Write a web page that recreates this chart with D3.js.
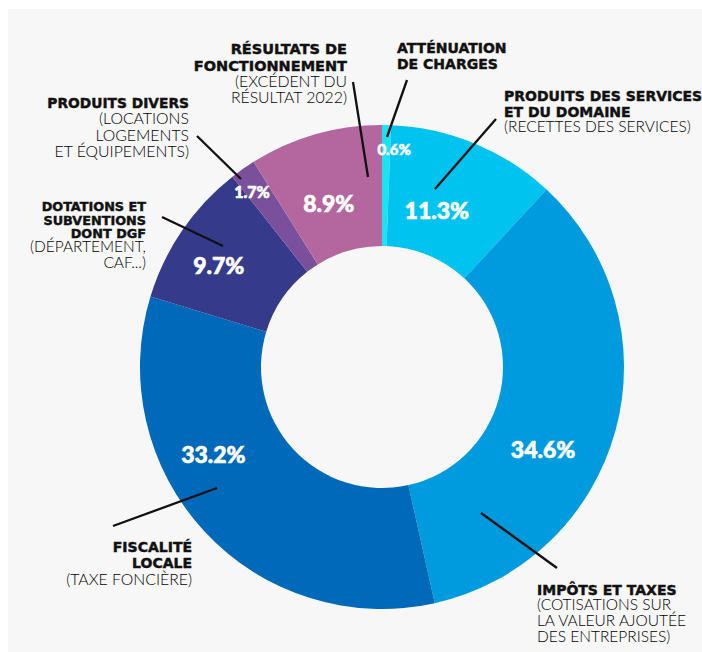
<!DOCTYPE html>
<html><head><meta charset="utf-8">
<script src="https://cdn.jsdelivr.net/npm/d3@7"></script>
<style>
html,body{margin:0;padding:0;background:#fff;}
svg{display:block;}
</style></head>
<body>
<script>
// ---- data ----
const categories = ["Atténuation de charges","Produits des services et du domaine","Impôts et taxes","Fiscalité locale","Dotations et subventions dont DGF","Produits divers","Résultats de fonctionnement"];
const values = [0.6, 11.3, 34.6, 33.2, 9.7, 1.7, 8.9];
const valueLabels = ["0.6%","11.3%","34.6%","33.2%","9.7%","1.7%","8.9%"];
const colors = ["#1fe2f1","#00c4ef","#009bde","#0069b9","#363a8b","#7a4f9b","#b4679f"];
const titleLines = [
  ["ATTÉNUATION","DE CHARGES"],
  ["PRODUITS DES SERVICES","ET DU DOMAINE"],
  ["IMPÔTS ET TAXES"],
  ["FISCALITÉ","LOCALE"],
  ["DOTATIONS ET","SUBVENTIONS","DONT DGF"],
  ["PRODUITS DIVERS"],
  ["RÉSULTATS DE","FONCTIONNEMENT"]
];
const noteLines = [
  [],
  ["(RECETTES DES SERVICES)"],
  ["(COTISATIONS SUR","LA VALEUR AJOUTÉE","DES ENTREPRISES)"],
  ["(TAXE FONCIÈRE)"],
  ["(DÉPARTEMENT,","CAF...)"],
  ["(LOCATIONS","LOGEMENTS","ET ÉQUIPEMENTS)"],
  ["(EXCÉDENT DU","RÉSULTAT 2022)"]
];

// ---- layout ----
const W = 702, H = 652;
const cx = 382, cy = 367, R = 242, r0 = 121;
// value label: [angle shift (deg) from slice middle, radius, font size]
const valueLabelLayout = [[2.1,218,15],[-3.2,166,23],[12,181,23],[15.4,190,23],[-2.6,192,23],[-1.5,218,16],[-2,172,23]];
// annotation blocks: anchor, x, first baseline, title step, note step, title size, note size
const annLayout = [
  {anchor:"start", x:397, y:53, step:15.5, nstep:16, ts:14, ns:15.5},
  {anchor:"start", x:504, y:101, step:15.5, nstep:15, ts:14, ns:15.5},
  {anchor:"start", x:537, y:594.5, step:15.8, nstep:15.6, ts:14, ns:15.5},
  {anchor:"end", x:192, y:552, step:16.3, nstep:16.3, ts:14, ns:15.8},
  {anchor:"end", x:146, y:210.7, step:13.8, nstep:15.5, ts:12.8, ns:15.5},
  {anchor:"end", x:189, y:108, step:16.3, nstep:16.2, ts:13.8, ns:15.8},
  {anchor:"end", x:347, y:54, step:16.5, nstep:16.3, ts:14.5, ns:15.8}
];
// leader lines [outer point, inner point] (px)
const leaderLayout = [
  [[407,80],[387,137]],
  [[496,119],[435,189]],
  [[557,568],[481,513]],
  [[113,526],[217,488]],
  [[162,217],[223,246]],
  [[197,136],[241,179]],
  [[353,82],[368,177]]
];

const svg = d3.select("body").append("svg").attr("width", W).attr("height", H);
svg.append("rect").attr("x",0).attr("y",0).attr("width",W).attr("height",H).attr("fill","#ffffff");
svg.append("rect").attr("x",8).attr("y",9).attr("width",W-8).attr("height",H-9).attr("fill","#f7f7f7");

const pie = d3.pie().sort(null).value(d => d)(values);
const arc = d3.arc().innerRadius(r0).outerRadius(R);
const g = svg.append("g").attr("transform", `translate(${cx},${cy})`);
g.selectAll("path.slice").data(pie).join("path")
  .attr("class","slice")
  .attr("d", arc)
  .attr("fill", (d,i) => colors[i]);

g.selectAll("text.val").data(pie).join("text")
  .attr("class","val")
  .attr("transform", (d,i) => {
    const a = (d.startAngle + d.endAngle)/2 + valueLabelLayout[i][0]*Math.PI/180;
    const rr = valueLabelLayout[i][1];
    return `translate(${rr*Math.sin(a)},${-rr*Math.cos(a)})`;
  })
  .attr("text-anchor","middle")
  .attr("dy","0.36em")
  .attr("fill","#fff")
  .attr("stroke","#fff").attr("stroke-width",0.6)
  .attr("font-family","Lato, 'DejaVu Sans', sans-serif")
  .attr("font-weight",900)
  .attr("font-size", (d,i) => valueLabelLayout[i][2])
  .text((d,i) => valueLabels[i]);

// leaders
svg.selectAll("line.lead").data(leaderLayout).join("line")
  .attr("class","lead")
  .attr("x1", d => d[0][0]).attr("y1", d => d[0][1])
  .attr("x2", d => d[1][0]).attr("y2", d => d[1][1])
  .attr("stroke","#111").attr("stroke-width",2.3);

// annotations
categories.forEach((c,i) => {
  const L = annLayout[i];
  const t = svg.append("text").attr("text-anchor", L.anchor).attr("fill","#111");
  let y = L.y;
  titleLines[i].forEach((s,k) => {
    if (k>0) y += L.step;
    t.append("tspan").attr("x", L.x).attr("y", y)
      .attr("font-family","'DejaVu Sans', sans-serif")
      .attr("stroke","#111").attr("stroke-width",0.45)
      .attr("font-weight",700).attr("font-size",L.ts).text(s);
  });
  noteLines[i].forEach((s,k) => {
    y += (k===0 ? L.step : L.nstep);
    t.append("tspan").attr("x", L.x).attr("y", y)
      .attr("font-family","Lato, sans-serif")
      .attr("fill","#000")
      .attr("font-weight",300).attr("font-size",L.ns).text(s);
  });
});
</script>
</body></html>
